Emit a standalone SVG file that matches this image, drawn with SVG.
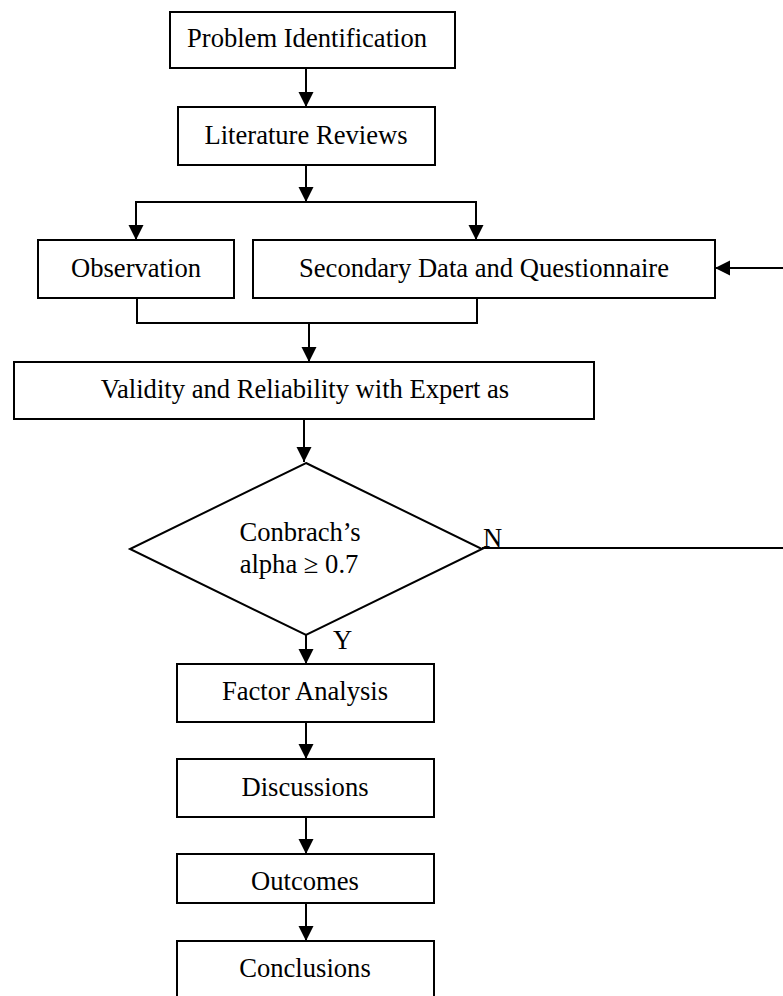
<svg xmlns="http://www.w3.org/2000/svg" width="783" height="996" viewBox="0 0 783 996">
<style>
.box{fill:#fff;stroke:#000;stroke-width:2}
.t{font-family:"Liberation Serif","Times New Roman",serif;font-size:26.6px;fill:#000;text-anchor:middle}
.lbl{font-family:"Liberation Serif","Times New Roman",serif;font-size:26.6px;fill:#000}
.c{fill:none;stroke:#000;stroke-width:2}
</style>
<defs>
<marker id="ah" markerUnits="userSpaceOnUse" markerWidth="16" markerHeight="16" refX="15" refY="7.5" orient="auto">
<path d="M0,0 L15,7.5 L0,15 z" fill="#000"/>
</marker>
</defs>
<rect width="783" height="996" fill="#fff"/>
<g id="connectors">
<line class="c" x1="306" y1="68" x2="306" y2="107" marker-end="url(#ah)"/>
<line class="c" x1="306" y1="165" x2="306" y2="202" marker-end="url(#ah)"/>
<polyline class="c" points="136,240 136,202 476,202 476,240"/>
<line class="c" x1="136" y1="202" x2="136" y2="240" marker-end="url(#ah)"/>
<line class="c" x1="476" y1="202" x2="476" y2="240" marker-end="url(#ah)"/>
<polyline class="c" points="137,298 137,323 477,323 477,298"/>
<line class="c" x1="309" y1="323" x2="309" y2="362" marker-end="url(#ah)"/>
<line class="c" x1="304" y1="419" x2="304" y2="462" marker-end="url(#ah)"/>
<line class="c" x1="306" y1="635" x2="306" y2="664" marker-end="url(#ah)"/>
<line class="c" x1="306" y1="722" x2="306" y2="759" marker-end="url(#ah)"/>
<line class="c" x1="306" y1="817" x2="306" y2="854" marker-end="url(#ah)"/>
<line class="c" x1="306" y1="903" x2="306" y2="941" marker-end="url(#ah)"/>
<line class="c" x1="482" y1="548" x2="783" y2="548"/>
<line class="c" x1="783" y1="268" x2="715" y2="268" marker-end="url(#ah)"/>
<text class="lbl" x="483" y="547">N</text>
<text class="lbl" x="333" y="649">Y</text>
</g>
<g id="problem">
<rect class="box" x="170" y="12" width="285" height="56"/>
<text class="t" x="307" y="47">Problem Identification</text>
</g>
<g id="literature">
<rect class="box" x="178" y="107" width="257" height="58"/>
<text class="t" x="306" y="144">Literature Reviews</text>
</g>
<g id="observation">
<rect class="box" x="38" y="240" width="196" height="58"/>
<text class="t" x="136" y="277">Observation</text>
</g>
<g id="secondary">
<rect class="box" x="253" y="240" width="462" height="58"/>
<text class="t" x="484" y="277">Secondary Data and Questionnaire</text>
</g>
<g id="validity">
<rect class="box" x="14" y="362" width="580" height="57"/>
<text class="t" x="305" y="398">Validity and Reliability with Expert as</text>
</g>
<g id="decision">
<polygon class="box" points="306,463 482,549 306,635 130,549"/>
<text class="t" x="300" y="541">Conbrach’s</text>
<text class="t" x="299" y="573">alpha ≥ 0.7</text>
</g>
<g id="factor">
<rect class="box" x="177" y="664" width="257" height="58"/>
<text class="t" x="305" y="700">Factor Analysis</text>
</g>
<g id="discussions">
<rect class="box" x="177" y="759" width="257" height="58"/>
<text class="t" x="305" y="796">Discussions</text>
</g>
<g id="outcomes">
<rect class="box" x="177" y="854" width="257" height="49"/>
<text class="t" x="305" y="890">Outcomes</text>
</g>
<g id="conclusions">
<rect class="box" x="177" y="941" width="257" height="70"/>
<text class="t" x="305" y="977">Conclusions</text>
</g>
</svg>
